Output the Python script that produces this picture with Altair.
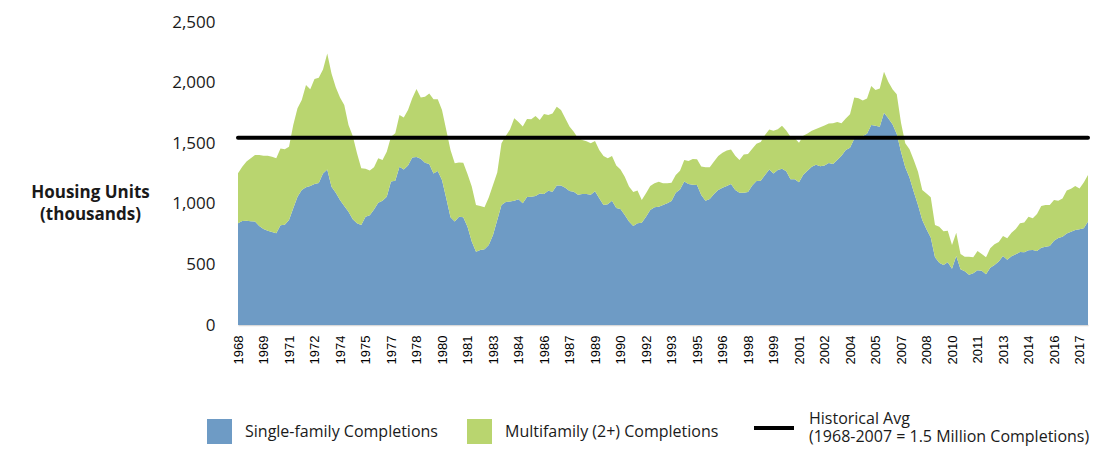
import altair as alt
import pandas as pd

# Quarterly housing completions (thousands, SAAR), 1968 Q1 .. 2018 Q1
single_family = [
    839, 858, 861, 855, 853, 817, 792, 778, 767, 756,
    822, 828, 866, 963, 1059, 1114, 1136, 1147, 1163, 1172,
    1251, 1284, 1141, 1092, 1031, 982, 935, 872, 839, 825,
    894, 905, 954, 1009, 1026, 1059, 1183, 1191, 1306, 1284,
    1317, 1383, 1386, 1372, 1339, 1328, 1251, 1271, 1196, 1045,
    888, 853, 894, 888, 811, 688, 605, 619, 624, 660,
    743, 866, 990, 1015, 1020, 1026, 1037, 1004, 1056, 1059,
    1064, 1086, 1081, 1108, 1100, 1152, 1150, 1133, 1106, 1100,
    1075, 1081, 1081, 1075, 1103, 1045, 990, 996, 1026, 965,
    957, 908, 853, 817, 839, 844, 894, 949, 971, 976,
    990, 1004, 1023, 1092, 1119, 1185, 1163, 1158, 1155, 1073,
    1026, 1040, 1081, 1114, 1133, 1147, 1163, 1114, 1092, 1092,
    1097, 1150, 1188, 1191, 1238, 1284, 1251, 1279, 1290, 1268,
    1202, 1202, 1177, 1240, 1273, 1306, 1323, 1309, 1317, 1337,
    1328, 1361, 1397, 1444, 1463, 1537, 1551, 1559, 1579, 1650,
    1645, 1636, 1752, 1705, 1656, 1576, 1430, 1301, 1216, 1100,
    990, 866, 789, 721, 558, 514, 495, 517, 465, 569,
    459, 443, 415, 426, 451, 448, 418, 473, 495, 523,
    569, 539, 567, 583, 602, 600, 616, 619, 611, 638,
    646, 652, 696, 718, 729, 754, 770, 784, 789, 798,
    853,
]
multifamily = [
    413, 448, 487, 520, 550, 586, 605, 619, 622, 619,
    635, 622, 605, 688, 729, 743, 844, 798, 866, 869,
    858, 957, 935, 869, 847, 833, 715, 688, 578, 468,
    396, 369, 347, 366, 336, 371, 371, 391, 426, 429,
    457, 487, 561, 506, 545, 583, 611, 591, 578, 564,
    556, 481, 446, 451, 435, 454, 385, 363, 347, 393,
    413, 393, 509, 545, 594, 679, 638, 633, 644, 638,
    660, 605, 660, 624, 646, 649, 624, 572, 531, 495,
    465, 446, 435, 424, 415, 399, 404, 380, 369, 352,
    327, 316, 289, 281, 270, 187, 193, 198, 198, 206,
    179, 165, 151, 146, 154, 176, 190, 212, 212, 234,
    275, 261, 267, 281, 289, 292, 286, 283, 270, 314,
    314, 305, 308, 319, 330, 330, 352, 336, 355, 336,
    352, 338, 327, 322, 308, 297, 294, 322, 330, 325,
    336, 314, 267, 259, 275, 341, 319, 294, 289, 322,
    294, 316, 338, 303, 289, 327, 239, 198, 234, 261,
    275, 248, 297, 333, 267, 297, 278, 261, 195, 193,
    127, 121, 149, 132, 160, 138, 140, 160, 171, 162,
    165, 176, 195, 209, 237, 245, 278, 261, 305, 344,
    344, 338, 336, 308, 314, 355, 355, 363, 338, 377,
    385,
]
quarters = [f"{1968 + i // 4} Q{i % 4 + 1}" for i in range(len(single_family))]
tick_quarters = quarters[::6]
y_ticks = [0, 500, 1000, 1500, 2000, 2500]

series_names = ["Single-family Completions", "Multifamily (2+) Completions"]
series_colors = ["#6E9BC5", "#B9D56F"]

avg_label = "Historical Avg"
avg_value = [1545]
avg_note = "(1968-2007 = 1.5 Million Completions)"

rows = []
for i, q in enumerate(quarters):
    rows.append({"quarter": q, "series": series_names[0], "value": single_family[i], "ord": 0})
    rows.append({"quarter": q, "series": series_names[1], "value": multifamily[i], "ord": 1})
df = pd.DataFrame(rows)

avg_df = pd.DataFrame({
    "start": [quarters[0]],
    "end": [quarters[-1]],
    "value": avg_value,
    "series": [avg_label],
})

FONT = "Open Sans"

x_scale = alt.Scale(type="point", padding=0)
y_scale = alt.Scale(domain=[0, 2500], nice=False)

x_axis = alt.Axis(
    values=tick_quarters,
    labelExpr="slice(datum.label, 0, 4)",
    labelAngle=270,
    labelFont="Liberation Sans",
    labelFontSize=13,
    labelColor="#000000",
    labelPadding=10,
    ticks=False,
    domain=True,
    domainColor="#d9d9d9",
    domainWidth=1.5,
    grid=False,
    title=None,
)
y_axis = alt.Axis(
    values=y_ticks,
    labelExpr="format(datum.value, ',')",
    labelFont=FONT,
    labelFontSize=17,
    labelColor="#1a1a1a",
    labelPadding=23,
    ticks=False,
    domain=False,
    grid=False,
    title=["Housing Units", "(thousands)"],
    titleAngle=0,
    titleAlign="center",
    titleBaseline="top",
    titleX=-148,
    titleY=162,
    titleFont=FONT,
    titleFontSize=17,
    titleFontWeight="bold",
    titleLineHeight=22,
    titleColor="#1a1a1a",
)

areas = alt.Chart(df).mark_area(opacity=1, interpolate="linear").encode(
    x=alt.X("quarter:O", sort=quarters, scale=x_scale, axis=x_axis),
    y=alt.Y("value:Q", stack="zero", scale=y_scale, axis=y_axis),
    color=alt.Color(
        "series:N",
        scale=alt.Scale(domain=series_names, range=series_colors),
        legend=alt.Legend(
            title=None,
            orient="none",
            direction="horizontal",
            legendX=-31,
            legendY=397,
            symbolType="square",
            symbolSize=625,
            symbolStrokeWidth=0,
            symbolOpacity=1,
            labelFont=FONT,
            labelFontSize=16,
            labelColor="#1a1a1a",
            labelOffset=13,
            labelLimit=400,
            columnPadding=29,
            padding=0,
        ),
    ),
    order=alt.Order("ord:Q"),
)

avg_rule = alt.Chart(avg_df).mark_rule(strokeWidth=4, strokeCap="round").encode(
    x=alt.X("start:O", sort=quarters, scale=x_scale, axis=x_axis),
    x2="end:O",
    y=alt.Y("value:Q", scale=y_scale, axis=y_axis),
    stroke=alt.Stroke(
        "series:N",
        scale=alt.Scale(domain=[avg_label], range=["#000000"]),
        legend=alt.Legend(
            title=None,
            orient="none",
            legendX=514,
            legendY=384,
            symbolType="stroke",
            symbolSize=1600,
            symbolStrokeWidth=4,
            labelFont=FONT,
            labelFontSize=16,
            labelColor="#1a1a1a",
            labelOffset=13,
            labelLimit=400,
            labelBaseline="line-bottom",
            labelExpr=f"['{avg_label}', '{avg_note}']",
            padding=0,
        ),
    ),
)

chart = alt.layer(areas, avg_rule).properties(
    width=850,
    height=303,
    background="white",
    autosize=alt.AutoSizeParams(type="none"),
    padding={"left": 230, "top": 14, "right": 20, "bottom": 121},
).configure_view(stroke=None)

chart.save("out.html", embed_options={"renderer": "svg", "actions": False})
